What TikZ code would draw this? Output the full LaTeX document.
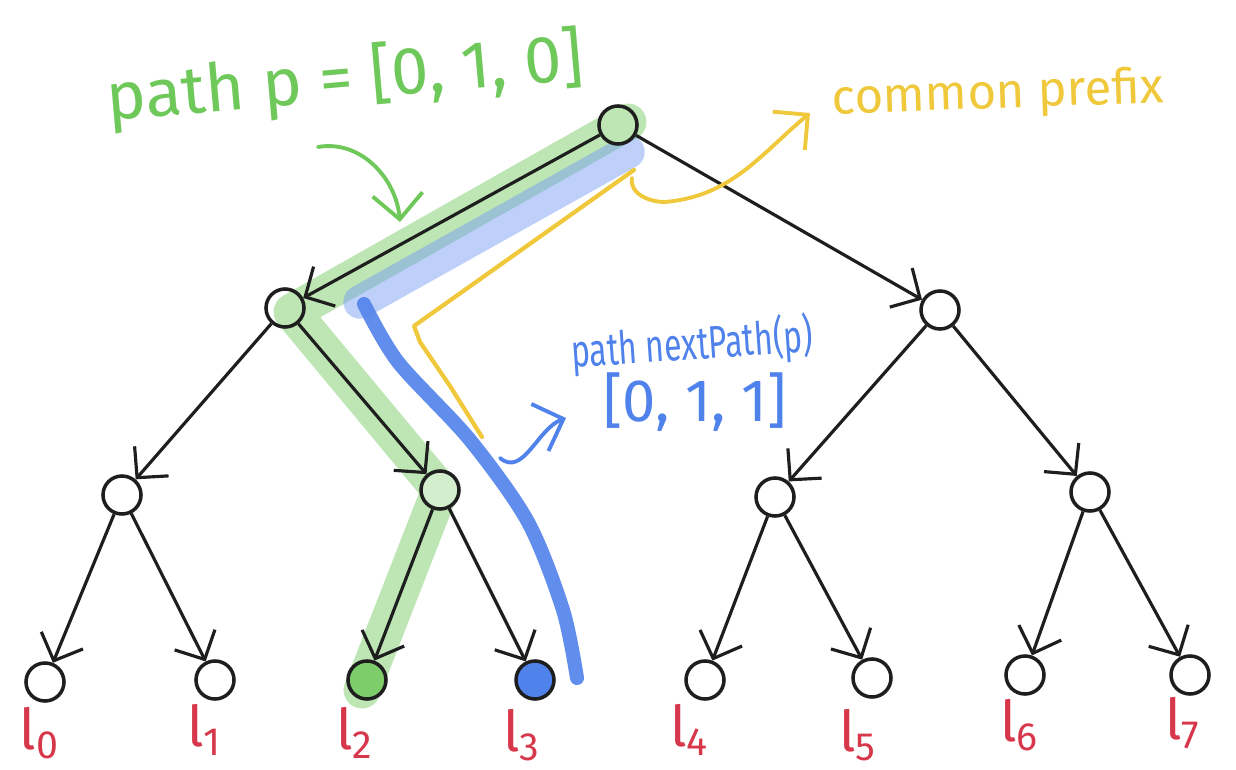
\documentclass[tikz,border=0pt]{standalone}
\usepackage{fontspec}
\setmainfont{Fira Sans}
\usetikzlibrary{arrows.meta}
\definecolor{ink}{RGB}{30,30,30}
\definecolor{pgreen}{RGB}{110,200,90}
\definecolor{pblue}{RGB}{80,130,235}
\definecolor{lblue}{RGB}{110,150,245}
\definecolor{pyellow}{RGB}{240,200,60}
\definecolor{pred}{RGB}{215,55,75}
\begin{document}
\begin{tikzpicture}[x=0.01cm,y=-0.01cm,
  vertex/.style={circle,draw=ink,line width=1pt,minimum size=0.38cm,inner sep=0pt},
  edge/.style={draw=ink,line width=0.9pt,-{Straight Barb[length=2.2mm,width=4.5mm]}},
  band/.style={line cap=round,line join=round},
  leaflabel/.style={text=pred,font=\fontsize{16}{16}\selectfont},
  hand/.style={-{Straight Barb[length=2.5mm,width=5mm]},line width=1.1pt,line cap=round}]
\useasboundingbox (0,0) rectangle (1236,770);

% highlighted paths (drawn beneath the tree)
\draw[band,pgreen,opacity=0.45,line width=10.5pt] (628,122) -- (292,312) -- (440,490) -- (362,690);
\draw[band,lblue,opacity=0.45,line width=9.5pt] (628,152) -- (360,302);
\draw[band,pblue,opacity=0.9,line width=4pt]
  plot[smooth] coordinates {(364,304) (398,362) (470,440) (528,522) (563,610) (577,678)};
\draw[band,pyellow,line width=1.2pt] (634,170) -- (414,326) -- (420,342) -- (450,386) -- (482,437);

% tree
\node[vertex,fill=pgreen!45] (r) at (618,125) {};
\node[vertex] (a) at (285,308) {};
\node[vertex] (b) at (940,310) {};
\node[vertex] (aa) at (122,495) {};
\node[vertex,fill=pgreen!30] (ab) at (440,490) {};
\node[vertex] (ba) at (775,497) {};
\node[vertex] (bb) at (1090,492) {};
\node[vertex] (n0) at (45,682) {};
\node[vertex] (n1) at (215,680) {};
\node[vertex,fill=pgreen!90] (n2) at (367,680) {};
\node[vertex,fill=pblue] (n3) at (535,680) {};
\node[vertex] (n4) at (705,680) {};
\node[vertex] (n5) at (872,678) {};
\node[vertex] (n6) at (1025,675) {};
\node[vertex] (n7) at (1190,675) {};

\draw[edge] (r) -- (a);
\draw[edge] (r) -- (b);
\draw[edge] (a) -- (aa);
\draw[edge] (a) -- (ab);
\draw[edge] (b) -- (ba);
\draw[edge] (b) -- (bb);
\draw[edge] (aa) -- (n0);
\draw[edge] (aa) -- (n1);
\draw[edge] (ab) -- (n2);
\draw[edge] (ab) -- (n3);
\draw[edge] (ba) -- (n4);
\draw[edge] (ba) -- (n5);
\draw[edge] (bb) -- (n6);
\draw[edge] (bb) -- (n7);

% leaf labels
\node[leaflabel] (t0) at (40,733) {l\textsubscript{0}};
\node[leaflabel] (t1) at (205,730) {l\textsubscript{1}};
\node[leaflabel] (t2) at (355,733) {l\textsubscript{2}};
\node[leaflabel] (t3) at (522,735) {l\textsubscript{3}};
\node[leaflabel] (t4) at (690,730) {l\textsubscript{4}};
\node[leaflabel] (t5) at (858,735) {l\textsubscript{5}};
\node[leaflabel] (t6) at (1020,725) {l\textsubscript{6}};
\node[leaflabel] (t7) at (1183,723) {l\textsubscript{7}};

% annotations
\node[text=pgreen,rotate=5,font=\fontsize{19}{19}\selectfont] (pp) at (345,80) {path p = [0, 1, 0]};
\node[text=pyellow,rotate=2,font=\fontsize{14}{14}\selectfont] (cp) at (998,95) {common prefix};
\node[text=pblue,rotate=4,font=\fontsize{13}{13}\selectfont] (np) at (692,345) {\scalebox{0.7}[1]{path nextPath(p)}};
\node[text=pblue,font=\fontsize{17}{17}\selectfont] (nv) at (695,402) {[0, 1, 1]};

\coordinate (gs) at (318,147);
\coordinate (ge) at (400,222);
\draw[hand,pgreen] (gs) to[out=10,in=95] (ge);
\coordinate (ys) at (632,178);
\coordinate (ym) at (665,202);
\coordinate (ye) at (810,113);
\draw[hand,pyellow] (ys) to[out=-100,in=180] (ym) to[out=5,in=-140] (ye);
\coordinate (bs) at (500,458);
\coordinate (be) at (566,418);
\draw[hand,pblue] (bs) to[out=-40,in=200] (be);
\end{tikzpicture}
\end{document}
